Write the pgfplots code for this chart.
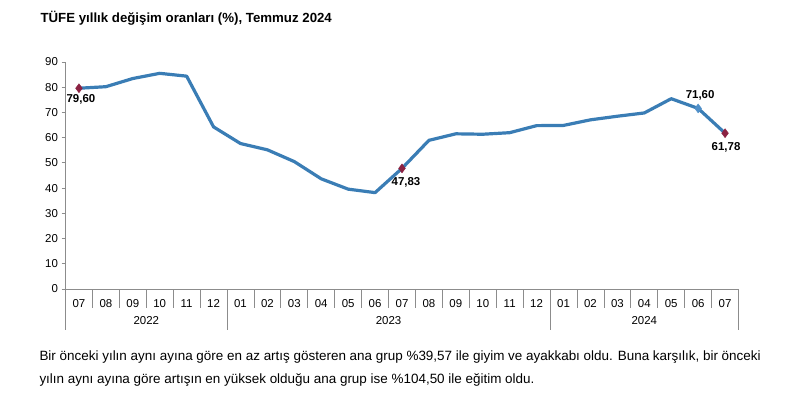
\documentclass[border=0pt]{standalone}
\usepackage{pgfplots}
\pgfplotsset{compat=1.18}
\usepackage{fontspec}
\setmainfont{Liberation Sans}
\usetikzlibrary{calc}
\definecolor{linec}{HTML}{3A7DB5}
\definecolor{darkm}{HTML}{8B2242}
\definecolor{lightm}{HTML}{4F8FC8}
\definecolor{axgray}{HTML}{8C8C8C}
\begin{document}
\begin{tikzpicture}[x=1bp,y=1bp]
\path[use as bounding box] (0,0) rectangle (804,394);
\node[anchor=west,font=\bfseries\fontsize{13.3}{15}\selectfont] at (37,376) {TÜFE yıllık değişim oranları (\%), Temmuz 2024};
\begin{axis}[
  name=a,
  at={(65.5bp,105bp)}, anchor=south west,
  scale only axis, width=673bp, height=227bp,
  xmin=-0.5, xmax=24.5, ymin=0, ymax=90,
  axis x line*=bottom, axis y line*=left,
  axis line style={axgray, line width=0.8pt},
  ytick={0,10,...,90},
  xtick={0,...,24},
  xticklabels={07,08,09,10,11,12,01,02,03,04,05,06,07,08,09,10,11,12,01,02,03,04,05,06,07},
  x tick label style={font=\fontsize{11.5}{13}\selectfont, yshift=-3bp},
  y tick label style={font=\fontsize{11.5}{13}\selectfont},
  /pgf/number format/assume math mode=true,
  xtick style={draw=none},
  ytick style={axgray, line width=0.8pt},
  tick align=outside, major tick length=4bp,
  clip=false,
]
\addplot[linec, line width=3.2bp, line join=round] coordinates {
(0,79.60) (1,80.21) (2,83.45) (3,85.51) (4,84.39) (5,64.27)
(6,57.68) (7,55.18) (8,50.51) (9,43.68) (10,39.59) (11,38.21)
(12,47.83) (13,58.94) (14,61.53) (15,61.36) (16,61.98) (17,64.77)
(18,64.86) (19,67.07) (20,68.50) (21,69.80) (22,75.45) (23,71.60) (24,61.78)
};
\addplot[only marks, mark=diamond*, mark size=4.5bp, darkm, mark options={fill=darkm, draw=darkm}] coordinates {(0,79.60) (12,47.83) (24,61.78)};
\addplot[only marks, mark=diamond*, mark size=4.5bp, lightm, mark options={fill=lightm, draw=lightm}] coordinates {(23,71.60)};
\node[font=\bfseries\fontsize{11.5}{13}\selectfont] at (axis cs:0,79.60) [yshift=-11bp,xshift=2bp] {79,60};
\node[font=\bfseries\fontsize{11.5}{13}\selectfont] at (axis cs:12,47.83) [yshift=-14bp,xshift=4bp] {47,83};
\node[font=\bfseries\fontsize{11.5}{13}\selectfont] at (axis cs:23,71.60) [yshift=13bp,xshift=2bp] {71,60};
\node[font=\bfseries\fontsize{11.5}{13}\selectfont] at (axis cs:24,61.78) [yshift=-14bp,xshift=1bp] {61,78};
\end{axis}
\foreach \i in {1,2,3,4,5,7,8,9,10,11,12,13,14,15,16,17,19,20,21,22,23,24} {
  \draw[axgray, line width=0.8pt] ($(a.south west)!\i/25!(a.south east)$) -- ++(0,-19);
}
\foreach \i in {0,6,18,25} {
  \draw[axgray, line width=0.8pt] ($(a.south west)!\i/25!(a.south east)$) -- ++(0,-41);
}
\node[font=\fontsize{11.5}{13}\selectfont] at ($(a.south west)!3/25!(a.south east)+(0,-32)$) {2022};
\node[font=\fontsize{11.5}{13}\selectfont] at ($(a.south west)!12/25!(a.south east)+(0,-32)$) {2023};
\node[font=\fontsize{11.5}{13}\selectfont] at ($(a.south west)!21.5/25!(a.south east)+(0,-32)$) {2024};
\node[anchor=west, font=\fontsize{13.5}{15}\selectfont] at (36,37) {Bir önceki yılın aynı ayına göre en az artış gösteren ana grup \%39,57 ile giyim ve ayakkabı oldu. Buna karşılık, bir önceki};
\node[anchor=west, font=\fontsize{13.5}{15}\selectfont] at (36,14) {yılın aynı ayına göre artışın en yüksek olduğu ana grup ise \%104,50 ile eğitim oldu.};
\end{tikzpicture}
\end{document}
